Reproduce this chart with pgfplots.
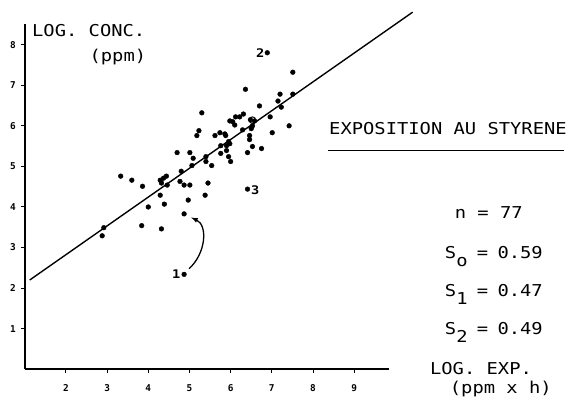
\documentclass[border=0pt]{standalone}
\usepackage{fontspec}
\setmainfont{DejaVu Sans Mono}[FakeStretch=1.15]
\newfontfamily\tickfont{DejaVu Sans Mono}
\usepackage{pgfplots}
\pgfplotsset{compat=1.18}

\newcommand{\lbl}{\fontsize{16.5bp}{18bp}\selectfont}
\newcommand{\sub}[1]{\raisebox{-8bp}{#1}}

\begin{document}
\begin{tikzpicture}
\begin{axis}[
  x=41.6bp, y=41bp,
  xmin=1, xmax=9.85, ymin=0, ymax=8.5,
  axis x line*=bottom, axis y line*=left,
  axis line style={line width=1.8bp},
  xtick={2,...,9}, ytick={1,...,8},
  tick align=outside, major tick length=3.5bp,
  tick style={line width=1bp, black},
  /pgf/number format/assume math mode=true,
  ticklabel style={font=\fontsize{9.5bp}{10bp}\tickfont\bfseries},
  xticklabel style={yshift=-8bp},
  yticklabel style={xshift=-2bp},
  clip=false,
]
% invisible frame: full picture extent
\path (axis cs:0.399,-0.732) rectangle (axis cs:14.10,9.10);

% regression line
\addplot[black, line width=1.4bp] coordinates {(1.12,2.20) (10.42,8.80)};

% observations
\addplot[only marks, mark=*, mark size=2.4bp, black] coordinates {
(6.89,7.80) (7.51,7.32) (6.36,6.90) (7.20,6.78) (7.51,6.78) (6.70,6.49)
(7.15,6.61) (7.23,6.46) (5.30,6.32) (6.12,6.22) (6.22,6.22) (6.31,6.29)
(5.98,6.12) (6.05,6.10) (6.10,6.02) (6.48,6.15) (6.58,6.12) (6.96,6.22)
(7.42,6.00) (6.53,6.00) (6.50,5.93) (5.23,5.88) (5.18,5.76) (5.62,5.76)
(5.74,5.83) (5.86,5.80) (5.88,5.76) (6.29,5.90) (6.46,5.76) (6.46,5.66)
(7.01,5.83) (5.95,5.61) (5.98,5.56) (5.90,5.51) (5.76,5.51) (6.53,5.49)
(6.75,5.44) (6.41,5.34) (4.70,5.34) (5.01,5.34) (5.76,5.32) (5.90,5.39)
(5.95,5.24) (6.00,5.12) (5.40,5.24) (5.40,5.12) (5.54,5.02) (5.09,5.20)
(4.80,4.88) (3.33,4.76) (3.60,4.66) (3.86,4.51) (4.29,4.66) (4.37,4.71)
(4.44,4.76) (4.32,4.59) (4.46,4.54) (4.77,4.63) (4.87,4.54) (5.01,4.54)
(5.45,4.59) (5.38,4.29) (4.29,4.29) (4.00,4.00) (4.39,4.07) (4.97,4.17)
(4.87,3.83) (3.84,3.54) (4.32,3.46) (2.92,3.49) (2.88,3.29) (6.41,4.44)
(4.87,2.34) (5.06,5.02)
};
\addplot[only marks, mark=o, mark size=3.3bp, line width=1bp, black] coordinates {(6.53,6.14)};

% point labels
\node[font=\fontsize{12bp}{12bp}\selectfont\bfseries] at (axis cs:6.72,7.80) {2};
\node[font=\fontsize{12bp}{12bp}\selectfont\bfseries] at (axis cs:6.60,4.42) {3};
\node[font=\fontsize{12bp}{12bp}\selectfont\bfseries] at (axis cs:4.68,2.34) {1};
\draw[line width=1.3bp, -latex] (axis cs:4.99,2.48) .. controls (axis cs:5.40,2.85) and (axis cs:5.45,3.55) .. (axis cs:5.04,3.74);

% axis titles
\node[anchor=base west, font=\lbl] at (axis cs:1.096,8.195) {LOG. CONC.};
\node[anchor=base west, font=\lbl] at (axis cs:2.49,7.59) {(ppm)};
\node[anchor=base west, font=\lbl] at (axis cs:10.76,-0.12) {LOG. EXP.};
\node[anchor=base west, font=\lbl] at (axis cs:11.24,-0.585) {(ppm x h)};

% statistics box
\node[anchor=base west, font=\lbl] at (axis cs:8.31,5.78) {EXPOSITION AU STYRENE};
\draw[line width=1.3bp] (axis cs:8.36,5.39) -- (axis cs:14.10,5.39);
\node[anchor=base west, font=\lbl] at (axis cs:11.36,3.71) {n = 77};
\node[anchor=base west, font=\lbl] at (axis cs:11.12,2.73) {S\sub{o}\kern-2bp{} =\kern-2bp{} 0.59};
\node[anchor=base west, font=\lbl] at (axis cs:11.12,1.80) {S\sub{1}\kern-2bp{} =\kern-2bp{} 0.47};
\node[anchor=base west, font=\lbl] at (axis cs:11.12,0.85) {S\sub{2}\kern-2bp{} =\kern-2bp{} 0.49};
\end{axis}
\end{tikzpicture}
\end{document}
